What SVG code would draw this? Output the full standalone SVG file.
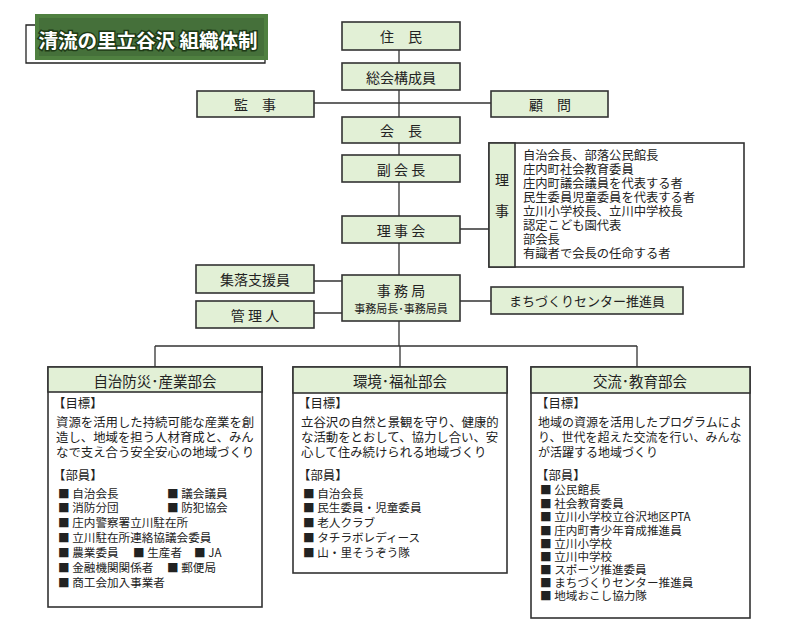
<svg xmlns="http://www.w3.org/2000/svg" width="788" height="634" viewBox="0 0 788 634">
<style>
text{font-family:"Noto Sans CJK JP","Noto Sans",sans-serif;fill:#222}
.n{fill:#e2f0d6;stroke:#333;stroke-width:1.6}
.w{fill:#fff;stroke:#333;stroke-width:1.6}
.l{stroke:#333;stroke-width:1.3;fill:none}
.t{font-size:14px;text-anchor:middle;dominant-baseline:central}
.s{font-size:12.3px}
.g{font-size:12.4px}
.m{font-size:11.6px}
.h{font-size:14.5px;text-anchor:middle;dominant-baseline:central}
</style>
<rect width="788" height="634" fill="#fff"/>
<g id="title">
<rect x="35" y="14" width="233" height="46" fill="#4f8040"/>
<rect x="39" y="18" width="225" height="38" fill="#45703a"/>
<polyline points="35,25 26,25 26,63 265,63 265,60" fill="none" stroke="#222" stroke-width="1.3"/>
<text x="148" y="39" font-size="19.5" font-weight="bold" text-anchor="middle" dominant-baseline="central" style="fill:#fff;stroke:#1e3a16;stroke-width:3;paint-order:stroke">清流の里立谷沢 組織体制</text>
</g>
<g id="connectors">
<path class="l" d="M399 50V63M399 90V117M314 103H491M399 143V155M399 182V216M399 243V275M460 229H489M314 281H342M314 313H342M460 301H491M399 321V346M155 346H637M155 346V367M400 346V367M637 346V367"/>
</g>
<g id="jumin"><rect class="n" x="342" y="22" width="118" height="28"/><text class="t" x="401" y="36">住　民</text></g>
<g id="sokai"><rect class="n" x="342" y="63" width="118" height="27"/><text class="t" x="401" y="76.5">総会構成員</text></g>
<g id="kanji"><rect class="n" x="197" y="91" width="117" height="26"/><text class="t" x="255" y="104">監　事</text></g>
<g id="komon"><rect class="n" x="491" y="91" width="117" height="26"/><text class="t" x="550" y="104">顧　問</text></g>
<g id="kaicho"><rect class="n" x="342" y="117" width="118" height="26"/><text class="t" x="401" y="130">会　長</text></g>
<g id="fukukaicho"><rect class="n" x="342" y="155" width="118" height="27"/><text class="t" x="401" y="168.5">副 会 長</text></g>
<g id="rijikai"><rect class="n" x="342" y="216" width="118" height="27"/><text class="t" x="401" y="229.5">理 事 会</text></g>
<g id="riji">
<rect class="w" x="489" y="143" width="255" height="124"/>
<rect class="n" x="489" y="143" width="26" height="124"/>
<text class="t" x="502" y="179">理</text><text class="t" x="502" y="210">事</text>
<g class="s">
<text x="523" y="160">自治会長、部落公民館長</text>
<text x="523" y="174">庄内町社会教育委員</text>
<text x="523" y="188">庄内町議会議員を代表する者</text>
<text x="523" y="202">民生委員児童委員を代表する者</text>
<text x="523" y="216">立川小学校長、立川中学校長</text>
<text x="523" y="230">認定こども園代表</text>
<text x="523" y="244">部会長</text>
<text x="523" y="258">有識者で会長の任命する者</text>
</g>
</g>
<g id="shuraku"><rect class="n" x="196" y="265" width="118" height="28"/><text class="t" x="255" y="279">集落支援員</text></g>
<g id="kanrinin"><rect class="n" x="196" y="301" width="118" height="27"/><text class="t" x="255" y="314.5">管 理 人</text></g>
<g id="jimukyoku"><rect class="n" x="342" y="275" width="118" height="46"/><text class="t" x="401" y="290">事 務 局</text><text x="401" y="308" font-size="11" text-anchor="middle" dominant-baseline="central">事務局長･事務局員</text></g>
<g id="machizukuri"><rect class="n" x="491" y="287" width="192" height="27"/><text class="t" x="587" y="300.5" style="font-size:13px">まちづくりセンター推進員</text></g>
<g id="bukai1">
<rect class="w" x="48" y="367" width="214" height="240"/>
<rect class="n" x="48" y="367" width="214" height="25"/>
<text class="h" x="155" y="380">自治防災･産業部会</text>
<text class="g" x="53" y="408">【目標】</text>
<g class="g"><text x="56" y="427">資源を活用した持続可能な産業を創</text><text x="56" y="442">造し、地域を担う人材育成と、みん</text><text x="56" y="457">なで支え合う安全安心の地域づくり</text></g>
<text class="g" x="53" y="480">【部員】</text>
<g class="m">
<text x="58" y="498">■ 自治会長</text><text x="167" y="498">■ 議会議員</text>
<text x="58" y="512">■ 消防分団</text><text x="167" y="512">■ 防犯協会</text>
<text x="58" y="527">■ 庄内警察署立川駐在所</text>
<text x="58" y="542">■ 立川駐在所連絡協議会委員</text>
<text x="58" y="557">■ 農業委員</text><text x="133" y="557">■ 生産者</text><text x="194" y="557">■ JA</text>
<text x="58" y="572">■ 金融機関関係者</text><text x="167" y="572">■ 郵便局</text>
<text x="58" y="587">■ 商工会加入事業者</text>
</g>
</g>
<g id="bukai2">
<rect class="w" x="293" y="367" width="214" height="206"/>
<rect class="n" x="293" y="367" width="214" height="26"/>
<text class="h" x="400" y="380">環境･福祉部会</text>
<text class="g" x="298" y="408">【目標】</text>
<g class="g"><text x="301" y="427">立谷沢の自然と景観を守り、健康的</text><text x="301" y="442">な活動をとおして、協力し合い、安</text><text x="301" y="457">心して住み続けられる地域づくり</text></g>
<text class="g" x="298" y="480">【部員】</text>
<g class="m">
<text x="303" y="498">■ 自治会長</text>
<text x="303" y="512">■ 民生委員・児童委員</text>
<text x="303" y="527">■ 老人クラブ</text>
<text x="303" y="542">■ タチラボレディース</text>
<text x="303" y="557">■ 山・里そうぞう隊</text>
</g>
</g>
<g id="bukai3">
<rect class="w" x="531" y="367" width="219" height="251"/>
<rect class="n" x="531" y="367" width="219" height="26"/>
<text class="h" x="640" y="380">交流･教育部会</text>
<text class="g" x="536" y="408">【目標】</text>
<g style="font-size:12px"><text x="538" y="427">地域の資源を活用したプログラムによ</text><text x="538" y="442">り、世代を超えた交流を行い、みんな</text><text x="538" y="457">が活躍する地域づくり</text></g>
<text class="g" x="536" y="480">【部員】</text>
<g class="m">
<text x="540" y="494">■ 公民館長</text>
<text x="540" y="508">■ 社会教育委員</text>
<text x="540" y="521">■ 立川小学校立谷沢地区PTA</text>
<text x="540" y="535">■ 庄内町青少年育成推進員</text>
<text x="540" y="548">■ 立川小学校</text>
<text x="540" y="561">■ 立川中学校</text>
<text x="540" y="574">■ スポーツ推進委員</text>
<text x="540" y="587">■ まちづくりセンター推進員</text>
<text x="540" y="600">■ 地域おこし協力隊</text>
</g>
</g>
</svg>
